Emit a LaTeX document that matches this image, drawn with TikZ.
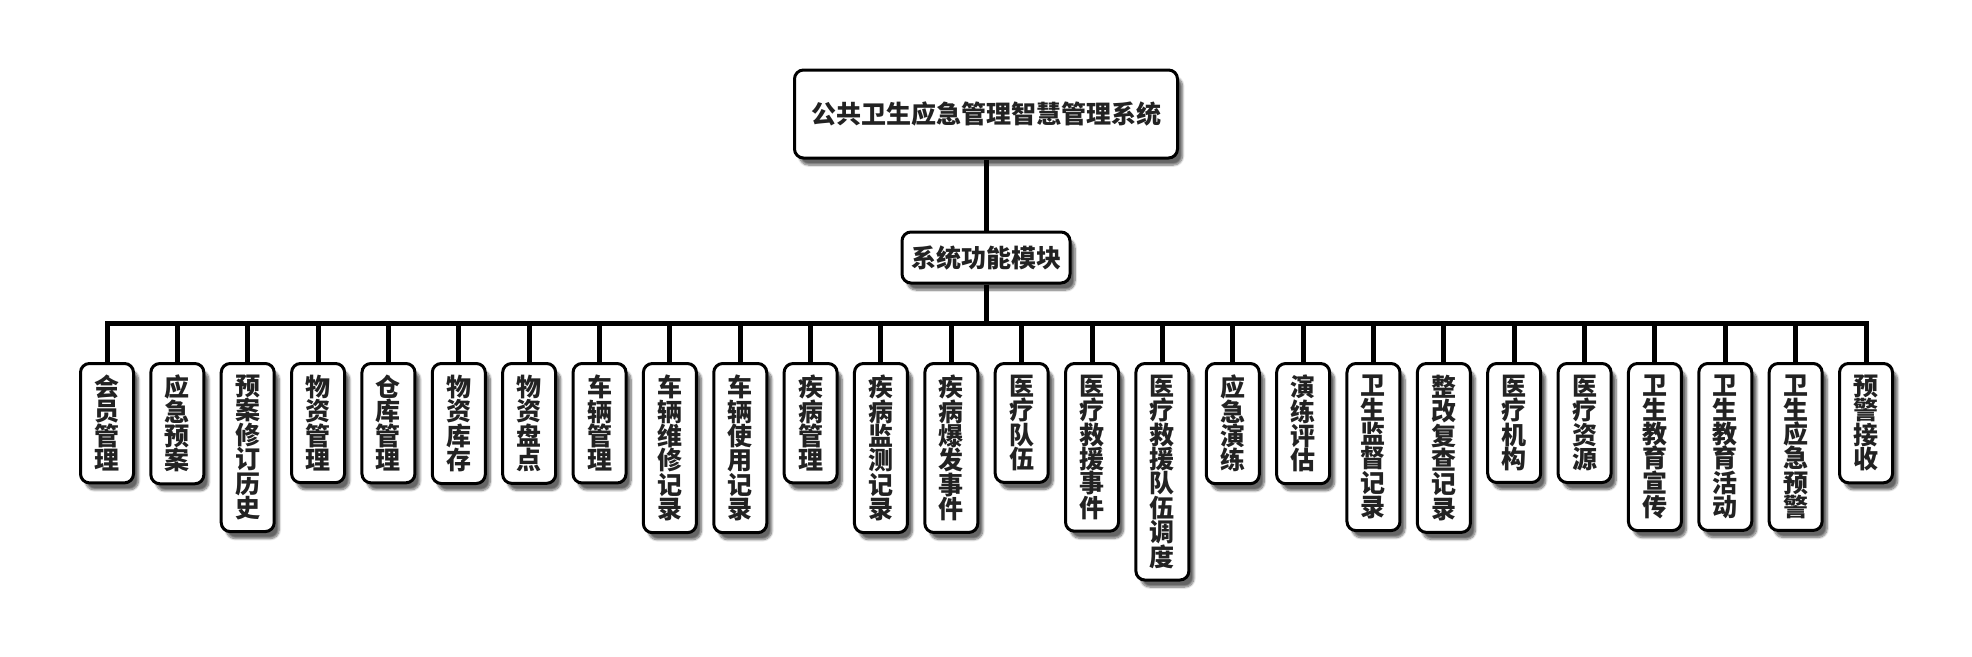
\documentclass[tikz,border=0pt]{standalone}
\usepackage{fontspec}
\setmainfont{Noto Sans CJK SC}
\usepackage{tikz}
\usetikzlibrary{shadows.blur}
\XeTeXlinebreaklocale "zh"
\XeTeXlinebreakskip=0pt plus 1pt
\definecolor{inkgray}{HTML}{222222}

\begin{document}
\begin{tikzpicture}[x=1pt,y=-1pt,
  box/.style={draw=black, line width=3pt, rounded corners=9pt, fill=white, text=inkgray,
    font=\fontsize{25}{28}\selectfont\bfseries,
    blur shadow={shadow xshift=5pt, shadow yshift=-7pt, shadow blur steps=8, shadow opacity=60}},
  leaf/.style={box, anchor=north, minimum width=53pt, text width=27pt, align=center,
    inner xsep=0pt, inner ysep=11.5pt, font=\fontsize{25}{24.4}\selectfont\bfseries},
  link/.style={line width=5pt}]
\useasboundingbox (0,0) rectangle (1972,656);
\node[box, minimum width=383pt, minimum height=88pt] (root) at (986,114) {公共卫生应急管理智慧管理系统};
\node[box, minimum width=168pt, minimum height=51pt] (sub) at (986,257.5) {系统功能模块};
\coordinate (bus) at (986,323);
\draw[link] (root) -- (sub);
\draw[link] (sub) -- (bus);
% modules
\foreach \t [count=\i from 0] in {会员管理,应急预案,预案修订历史,物资管理,仓库管理,物资库存,物资盘点,
  车辆管理,车辆维修记录,车辆使用记录,疾病管理,疾病监测记录,疾病爆发事件,医疗队伍,医疗救援事件,
  医疗救援队伍调度,应急演练,演练评估,卫生监督记录,整改复查记录,医疗机构,医疗资源,卫生教育宣传,
  卫生教育活动,卫生应急预警,预警接收}
  \node[leaf] (m\i) at (107+70.36*\i,362) {\t};
\foreach \i in {0,...,25}
  \draw[link] (bus) -| (m\i.north);
\end{tikzpicture}
\end{document}
